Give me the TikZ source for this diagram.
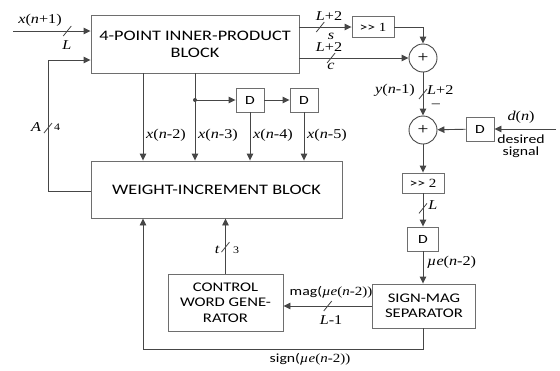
\documentclass[tikz,border=0pt]{standalone}
\usepackage{fontspec}
\setmainfont{Carlito}[FakeStretch=1.26]
\newfontfamily\tms{Liberation Serif}[FakeStretch=1.2]
\usetikzlibrary{arrows.meta,positioning,calc}
\definecolor{wline}{RGB}{70,70,70}
\definecolor{wbox}{RGB}{110,110,110}
\newcommand{\vv}[1]{{\itshape #1}}

\begin{document}
\begin{tikzpicture}[x=1pt,y=-1pt,
  font=\fontsize{14.5}{17}\selectfont,
  blk/.style={draw=wbox,line width=.9pt,fill=white,align=center,inner sep=2pt},
  small/.style={font=\fontsize{13.2}{15.5}\selectfont},
  dly/.style={blk,minimum width=28pt,minimum height=24pt,font=\fontsize{12.5}{14}\selectfont},
  shf/.style={blk,minimum width=42pt,minimum height=21pt,font=\fontsize{12.5}{14}\selectfont\tms},
  adder/.style={draw=wline,line width=.9pt,circle,minimum size=28pt,inner sep=0pt,font=\fontsize{16}{16}\selectfont\tms},
  lbl/.style={font=\fontsize{13.5}{14}\selectfont\tms,inner sep=1pt},
  note/.style={font=\fontsize{12.5}{12.5}\selectfont,inner sep=1pt,align=center},
  arr/.style={-{Triangle[length=7pt,width=6.5pt]},draw=wline,line width=.9pt},
  buscut/.pic={\draw[-,wline,line width=.8pt] (-4,5)--(4,-5);}]

\path[use as bounding box] (0,0) rectangle (560,370);

\node[blk,minimum width=208pt,minimum height=58pt] (ipb) at (195,44)
  {4-POINT INNER-PRODUCT\\BLOCK};
\node[blk,minimum width=251pt,minimum height=57pt] (wib) at (216.5,189.5)
  {WEIGHT-INCREMENT BLOCK};
\node[dly] (d1) at (250,100) {D};
\node[dly] (d2) at (304,100) {D};
\node[shf] (sh1) at (373,27) {{\rmfamily>{}>} 1};
\node[adder] (add1) at (423,58) {+};
\node[adder] (add2) at (423,130) {+};
\node[dly] (dd) at (480,129) {D};
\node[shf,minimum height=20pt] (sh2) at (423,183) {{\rmfamily>{}>} 2};
\node[dly,minimum width=31pt] (d3) at (423,239) {D};
\node[blk,small,minimum width=103pt,minimum height=44pt] (smag) at (424,306)
  {SIGN-MAG\\SEPARATOR};
\node[blk,small,minimum width=115pt,minimum height=57pt] (cwg) at (225.5,302.5)
  {CONTROL\\WORD GENE-\\RATOR};

\coordinate (xin) at (13,31);
\coordinate (fbk) at (48,60);
\coordinate (tap) at (195,100);
\coordinate (din) at (556,129);
\coordinate (sgn) at (143,349);

\draw[arr] (xin) -- pic[pos=.7]{buscut} (xin -| ipb.west);
\node[lbl] (xinl) at (40,20) {\vv{x}(\vv{n}+1)};
\node[lbl] (xinw) at (67,45) {\vv{L}};

\draw[arr] (wib.west |- 0,191) -| (fbk) -- (fbk -| ipb.west);
\pic at (48,128) {buscut};
\node[lbl] (al) at (36,127) {\vv{A}};
\node[lbl,font=\fontsize{10}{10}\selectfont\tms] (aw) at (57,127) {4};

\draw[arr] (ipb.south -| 143,0) -- (wib.north -| 143,0);
\draw[arr] (ipb.south -| tap) -- (wib.north -| tap);
\fill[wline] (tap) circle (2);
\draw[arr] (tap) -- (d1);
\draw[arr] (d1) -- (d2);
\draw[arr] (d1) -- (d1 |- wib.north);
\draw[arr] (d2) -- (d2 |- wib.north);
\node[lbl,anchor=west] (x2) at (145,135) {\vv{x}(\vv{n}-2)};
\node[lbl,anchor=west] (x3) at (197,135) {\vv{x}(\vv{n}-3)};
\node[lbl,anchor=west] (x4) at (252,135) {\vv{x}(\vv{n}-4)};
\node[lbl,anchor=west] (x5) at (306,135) {\vv{x}(\vv{n}-5)};

\draw[arr] (ipb.east |- sh1) -- pic[pos=.4]{buscut} (sh1.west);
\node[lbl] (sw) at (329,16) {\vv{L}+2};
\node[lbl] (sl) at (331,36) {\vv{s}};
\draw[arr] (sh1.east) -| (add1.north);
\draw[arr] (ipb.east |- add1) -- pic[pos=.29]{buscut} (add1.west);
\node[lbl] (cw) at (329,47) {\vv{L}+2};
\node[lbl] (cl) at (331,66) {\vv{c}};

\draw[arr] (add1.south) -- pic[pos=.5]{buscut} (add2.north);
\node[lbl,anchor=east] (yl) at (416,90) {\vv{y}(\vv{n}-1)};
\node[lbl,anchor=west] (yw) at (426,90) {\vv{L}+2};
\node[lbl] (mn) at (436,106) {\textendash};

\draw[arr] (din) -- (dd);
\draw[arr] (dd) -- (add2);
\node[lbl] (dl) at (521,117) {\vv{d}(\vv{n})};
\node[note] (dn) at (521,146) {desired\\signal};

\draw[arr] (add2) -- (sh2);
\draw[arr] (sh2) -- pic[pos=.45]{buscut} (d3);
\node[lbl] (lw) at (433,205) {\vv{L}};
\draw[arr] (d3) -- (d3 |- smag.north);
\node[lbl,anchor=west] (mu) at (426,262) {\vv{\textmu e}(\vv{n}-2)};

\draw[arr] (smag.west |- 0,306) -- pic[pos=.5]{buscut} (cwg.east |- 0,306);
\node[note,anchor=south] (mg) at (331,299) {mag(\tms\vv{\textmu e}(\vv{n}-2))};
\node[lbl] (mw) at (331,320) {\vv{L}-1};

\draw[arr] (cwg.north) -- pic[pos=.48]{buscut} (cwg.north |- wib.south);
\node[lbl] (tl) at (217,250) {\vv{t}};
\node[lbl,font=\fontsize{10}{10}\selectfont\tms] (tw) at (236,250) {3};

\draw[arr] (smag.south -| d3) |- (sgn) -- (sgn |- wib.south);
\node[note] (sg) at (310,359) {sign(\tms\vv{\textmu e}(\vv{n}-2))};

\end{tikzpicture}
\end{document}
